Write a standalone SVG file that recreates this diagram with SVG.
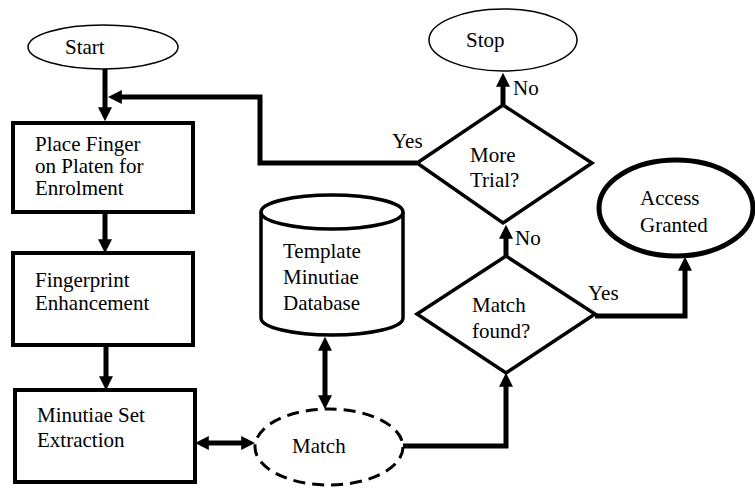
<svg xmlns="http://www.w3.org/2000/svg" width="755" height="489" viewBox="0 0 755 489">
<defs>
<marker id="ah" viewBox="0 0 10 10" refX="2" refY="5" markerWidth="14" markerHeight="14" markerUnits="userSpaceOnUse" orient="auto-start-reverse">
<path d="M0,0 L10,5 L0,10 z" fill="#000"/>
</marker>
</defs>
<rect width="755" height="489" fill="#fff"/>
<g id="connectors" fill="none" stroke="#000" stroke-width="5">
<path d="M105,69 V110" marker-end="url(#ah)"/>
<path d="M417,163 H260 V97 H119" marker-end="url(#ah)"/>
<path d="M105,212 V242" marker-end="url(#ah)"/>
<path d="M106,345 V379" marker-end="url(#ah)"/>
<path d="M206,443 H244" marker-start="url(#ah)" marker-end="url(#ah)"/>
<path d="M325,348 V398" marker-start="url(#ah)" marker-end="url(#ah)"/>
<path d="M403,446 H506 V384" marker-end="url(#ah)"/>
<path d="M506,256 V236" marker-end="url(#ah)"/>
<path d="M503,105 V84" marker-end="url(#ah)"/>
<path d="M595,316 H685 V268" marker-end="url(#ah)"/>
</g>
<g id="labels" fill="#000">
<text x="513" y="95" style="font-family:'Liberation Serif',serif;font-size:21px">No</text>
<text x="392" y="148" style="font-family:'Liberation Serif',serif;font-size:21px">Yes</text>
<text x="515" y="245" style="font-family:'Liberation Serif',serif;font-size:21px">No</text>
<text x="588" y="300" style="font-family:'Liberation Serif',serif;font-size:21px">Yes</text>
</g>
<g id="start">
<ellipse cx="103" cy="47" rx="75" ry="22" fill="#fff" stroke="#000" stroke-width="1.5"/>
<text x="65" y="54" style="font-family:'Liberation Serif',serif;font-size:21px">Start</text>
</g>
<g id="place">
<rect x="13" y="123" width="180" height="89" fill="#fff" stroke="#000" stroke-width="4"/>
<text x="35" y="151" style="font-family:'Liberation Serif',serif;font-size:21px">Place Finger</text>
<text x="35" y="173" style="font-family:'Liberation Serif',serif;font-size:21px">on Platen for</text>
<text x="35" y="195" style="font-family:'Liberation Serif',serif;font-size:21px">Enrolment</text>
</g>
<g id="enhance">
<rect x="13" y="253" width="180" height="92" fill="#fff" stroke="#000" stroke-width="4"/>
<text x="35" y="287" style="font-family:'Liberation Serif',serif;font-size:21px">Fingerprint</text>
<text x="35" y="310" style="font-family:'Liberation Serif',serif;font-size:21px">Enhancement</text>
</g>
<g id="extract">
<rect x="15" y="390" width="180" height="92" fill="#fff" stroke="#000" stroke-width="4"/>
<text x="37" y="422" style="font-family:'Liberation Serif',serif;font-size:21px">Minutiae Set</text>
<text x="37" y="447" style="font-family:'Liberation Serif',serif;font-size:21px">Extraction</text>
</g>
<g id="database">
<path d="M261,212 V318 A71,17 0 0 0 403,318 V212" fill="#fff" stroke="#000" stroke-width="3.5"/>
<ellipse cx="332" cy="212" rx="71" ry="17" fill="#fff" stroke="#000" stroke-width="3.5"/>
<text x="283" y="258" style="font-family:'Liberation Serif',serif;font-size:21px">Template</text>
<text x="283" y="284" style="font-family:'Liberation Serif',serif;font-size:21px">Minutiae</text>
<text x="283" y="310" style="font-family:'Liberation Serif',serif;font-size:21px">Database</text>
</g>
<g id="match">
<ellipse cx="329" cy="447" rx="74" ry="38" fill="#fff" stroke="#000" stroke-width="3" stroke-dasharray="12,7"/>
<text x="292" y="453" style="font-family:'Liberation Serif',serif;font-size:21px">Match</text>
</g>
<g id="matchfound">
<polygon points="506,256 595,314 506,373 417,314" fill="#fff" stroke="#000" stroke-width="3.5"/>
<text x="472" y="312" style="font-family:'Liberation Serif',serif;font-size:21px">Match</text>
<text x="472" y="338" style="font-family:'Liberation Serif',serif;font-size:21px">found?</text>
</g>
<g id="moretrial">
<polygon points="503,105 592,163 503,223 417,163" fill="#fff" stroke="#000" stroke-width="3.5"/>
<text x="470" y="162" style="font-family:'Liberation Serif',serif;font-size:21px">More</text>
<text x="470" y="187" style="font-family:'Liberation Serif',serif;font-size:21px">Trial?</text>
</g>
<g id="stop">
<ellipse cx="503" cy="40" rx="74" ry="31" fill="#fff" stroke="#000" stroke-width="1.5"/>
<text x="466" y="47" style="font-family:'Liberation Serif',serif;font-size:21px">Stop</text>
</g>
<g id="access">
<ellipse cx="676" cy="208" rx="77" ry="48" fill="#fff" stroke="#000" stroke-width="5"/>
<text x="640" y="205" style="font-family:'Liberation Serif',serif;font-size:21px">Access</text>
<text x="640" y="232" style="font-family:'Liberation Serif',serif;font-size:21px">Granted</text>
</g>
</svg>
